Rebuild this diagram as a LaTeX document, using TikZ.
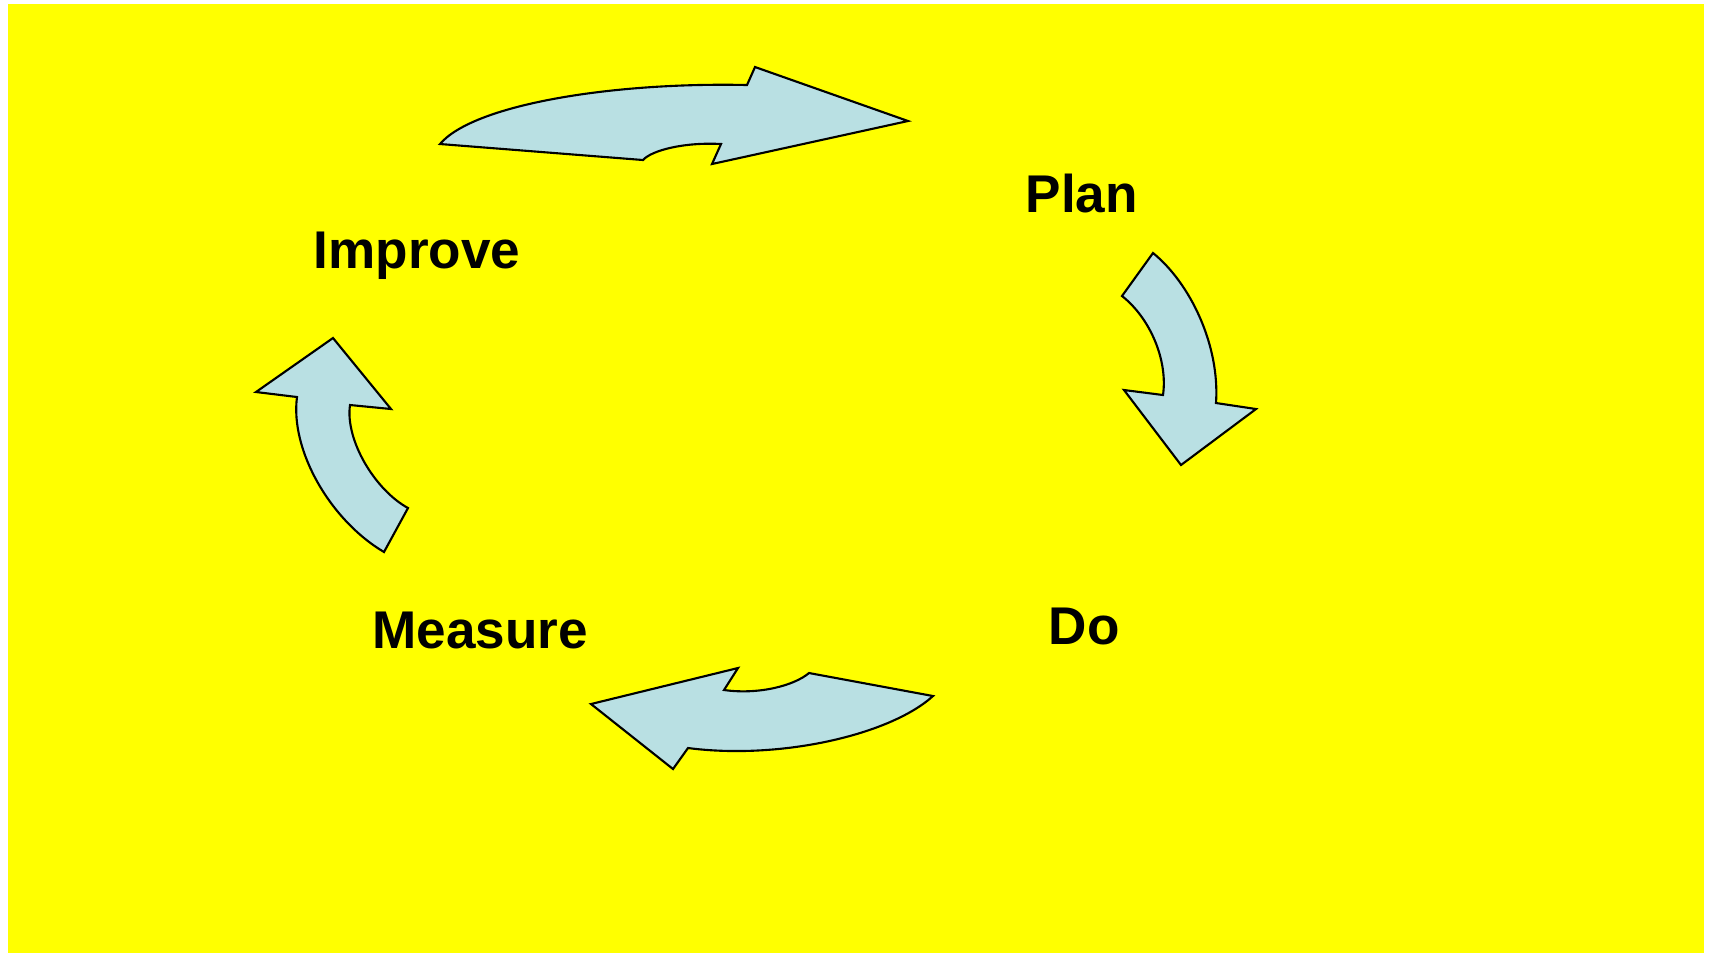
\documentclass[tikz,border=0pt]{standalone}
\usepackage{xcolor}
\usepackage{fontspec}
\setmainfont{Liberation Sans}
\usepackage{tikz}
\usetikzlibrary{positioning, calc}
\definecolor{cycle-yellow}{HTML}{FFFF00}
\definecolor{cycle-blue}{HTML}{B9E0E3}

\begin{document}
\begin{tikzpicture}[
    x=0.01cm, y=-0.01cm,
    blockarrow/.style={draw=black, fill=cycle-blue, line width=0.6pt, line join=miter},
    stage/.style={font=\fontsize{15.1}{18}\selectfont\bfseries, anchor=base west, inner sep=0pt}
]
    \useasboundingbox (0,0) rectangle (1715,953);
    \fill[cycle-yellow] (8,4) rectangle (1704,953);

    % Improve -> Plan
    \draw[blockarrow] (440,144) .. controls (473,105) and (610,82) .. (747,85)
        -- (755,67) -- (908,121) -- (712,164) -- (721,144)
        .. controls (685,142) and (652,150) .. (643,160) -- cycle;
    % Plan -> Do
    \draw[blockarrow] (1153,253) -- (1122,296)
        .. controls (1150,318) and (1168,360) .. (1163,395)
        -- (1124,390) -- (1181,465) -- (1256,409) -- (1216,403)
        .. controls (1220,345) and (1190,283) .. cycle;
    % Do -> Measure
    \draw[blockarrow] (591,704) -- (738,668) -- (724,690)
        .. controls (760,695) and (795,685) .. (809,673)
        -- (933,696) .. controls (890,735) and (780,760) .. (688,748)
        -- (673,769) -- cycle;
    % Measure -> Improve
    \draw[blockarrow] (333,338) -- (256,392) -- (297,397)
        .. controls (290,450) and (330,520) .. (384,552)
        -- (408,508) .. controls (375,490) and (345,440) .. (350,405)
        -- (391,409) -- cycle;

    \node[stage] (plan) at (1025,212) {Plan};
    \node[stage] (do) at (1048,644) {Do};
    \node[stage] (measure) at (372,648) {Measure};
    \node[stage] (improve) at (313,268) {Improve};
\end{tikzpicture}
\end{document}
